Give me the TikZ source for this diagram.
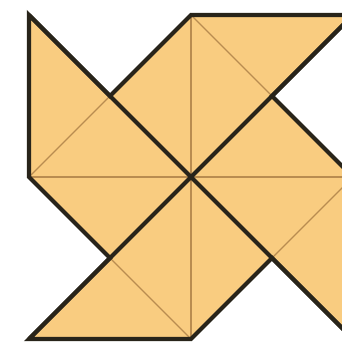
\documentclass[tikz,border=0pt]{standalone}
\usepackage{tikz}
\definecolor{paper}{RGB}{249,204,128}
\definecolor{ink}{RGB}{40,36,26}
\definecolor{crease}{RGB}{185,140,80}

\begin{document}
\begin{tikzpicture}[
  x=1pt,y=1pt,
  blade/.style={fill=paper,draw=none},
  thick edge/.style={draw=ink,line width=4.2pt,line join=miter,line cap=butt},
  thin edge/.style={draw=crease,line width=1.2pt}
]
\useasboundingbox (-191,-172) rectangle (151,177);
\clip (-191,-172) rectangle (151,177);
% square corners and midpoints
\coordinate (o) at (0,0);
\coordinate (tl) at (-162,162);
\coordinate (tr) at (162,162);
\coordinate (br) at (162,-162);
\coordinate (bl) at (-162,-162);
\coordinate (t) at (0,162);
\coordinate (r) at (162,0);
\coordinate (b) at (0,-162);
\coordinate (l) at (-162,0);
\coordinate (ctl) at (-81,81);
\coordinate (ctr) at (81,81);
\coordinate (cbr) at (81,-81);
\coordinate (cbl) at (-81,-81);
\path[blade] (tl) -- (ctl) -- (t) -- (tr) -- (ctr) -- (r) -- (br) -- (cbr)
  -- (b) -- (bl) -- (cbl) -- (l) -- cycle;
% folds
\draw[thin edge] (l) -- (r);
\draw[thin edge] (t) -- (b);
\draw[thin edge] (l) -- (ctl);
\draw[thin edge] (t) -- (ctr);
\draw[thin edge] (r) -- (cbr);
\draw[thin edge] (b) -- (cbl);
% outline
\draw[thick edge] (tl) -- (ctl) -- (t) -- (tr) -- (ctr) -- (r) -- (br) -- (cbr)
  -- (b) -- (bl) -- (cbl) -- (l) -- cycle;
\draw[thick edge] (tl) -- (br);
\draw[thick edge] (tr) -- (bl);
\end{tikzpicture}
\end{document}
